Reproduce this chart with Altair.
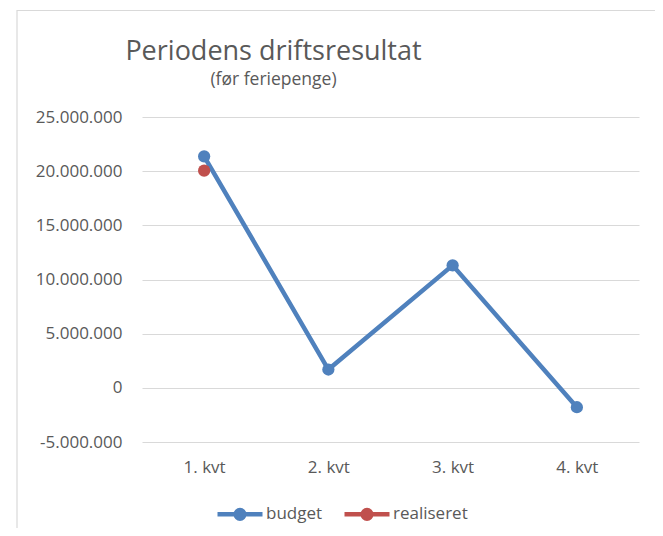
import altair as alt
import pandas as pd

quarters = ["1. kvt", "2. kvt", "3. kvt", "4. kvt"]
budget = [21370000, 1690000, 11310000, -1790000]
realiseret = [20050000, None, None, None]
series_names = ["budget", "realiseret"]
series_colors = ["#4F81BD", "#C0504D"]
y_ticks = [-5000000, 0, 5000000, 10000000, 15000000, 20000000, 25000000]

rows = []
for q, b, r in zip(quarters, budget, realiseret):
    rows.append({"kvartal": q, "serie": "budget", "værdi": b})
    rows.append({"kvartal": q, "serie": "realiseret", "værdi": r})
df = pd.DataFrame(rows)

FONT = "Open Sans"
TXT = "#595959"

label_expr = "(datum.value < 0 ? '-' : '') + replace(format(abs(datum.value), ','), /,/g, '.')"

legend_path = "M-1,0L1,0M0.19,0A0.19,0.19,0,1,1,-0.19,0A0.19,0.19,0,1,1,0.19,0Z"

legend = alt.Legend(
    title=None, orient="none", legendX=73, legendY=372, direction="horizontal",
    symbolType=legend_path, symbolSize=2025, symbolStrokeWidth=4.5,
    labelFont=FONT, labelFontSize=17, labelColor=TXT, labelOffset=1,
    columnPadding=12,
)

color_scale = alt.Scale(domain=series_names, range=series_colors)

x_enc = alt.X("kvartal:N", sort=quarters, title=None,
              scale=alt.Scale(paddingInner=1, paddingOuter=0.5),
              axis=alt.Axis(labelAngle=0, domain=False, ticks=False, labelPadding=25,
                            labelBaseline="middle", labelFont=FONT, labelFontSize=17,
                            labelColor=TXT, grid=False))
y_enc = alt.Y("værdi:Q", title=None,
              scale=alt.Scale(domain=[-5000000, 25000000], nice=False, zero=False),
              axis=alt.Axis(values=y_ticks, labelExpr=label_expr, domain=False, ticks=False,
                            labelPadding=20, labelFont=FONT, labelFontSize=17, labelColor=TXT,
                            grid=True, gridColor="#D9D9D9", gridWidth=1))

base = alt.Chart(df)

lines = base.mark_line(strokeWidth=4.5).encode(
    x=x_enc, y=y_enc,
    stroke=alt.Stroke("serie:N", scale=color_scale, legend=legend),
    detail="serie:N",
)
points = base.mark_point(filled=True, size=150, opacity=1).transform_filter(
    "isValid(datum['værdi'])"
).encode(
    x=alt.X("kvartal:N", sort=quarters),
    y=alt.Y("værdi:Q"),
    fill=alt.Fill("serie:N", scale=color_scale, legend=legend),
)

border = alt.Chart(pd.DataFrame({"a": [0]})).mark_rect(
    fill=None, stroke="#D9D9D9", strokeWidth=1.2
).encode(
    x=alt.value(-125), x2=alt.value(700), y=alt.value(-106.5), y2=alt.value(600)
)

chart = alt.layer(border, lines, points).properties(
    width=497, height=325,
    autosize=alt.AutoSizeParams(type="none"),
    padding={"left": 134, "top": 109, "right": 16, "bottom": 86},
    title=alt.TitleParams(
        text="Periodens driftsresultat", subtitle="(før feriepenge)",
        anchor="middle", dx=-117, offset=-80,
        font=FONT, fontSize=27, fontWeight="normal", color=TXT,
        subtitleFont=FONT, subtitleFontSize=17.5, subtitleColor=TXT, subtitlePadding=5,
    ),
).configure(background="white").configure_view(stroke=None)

chart.save("out.html", embed_options={"renderer": "svg", "actions": False})
